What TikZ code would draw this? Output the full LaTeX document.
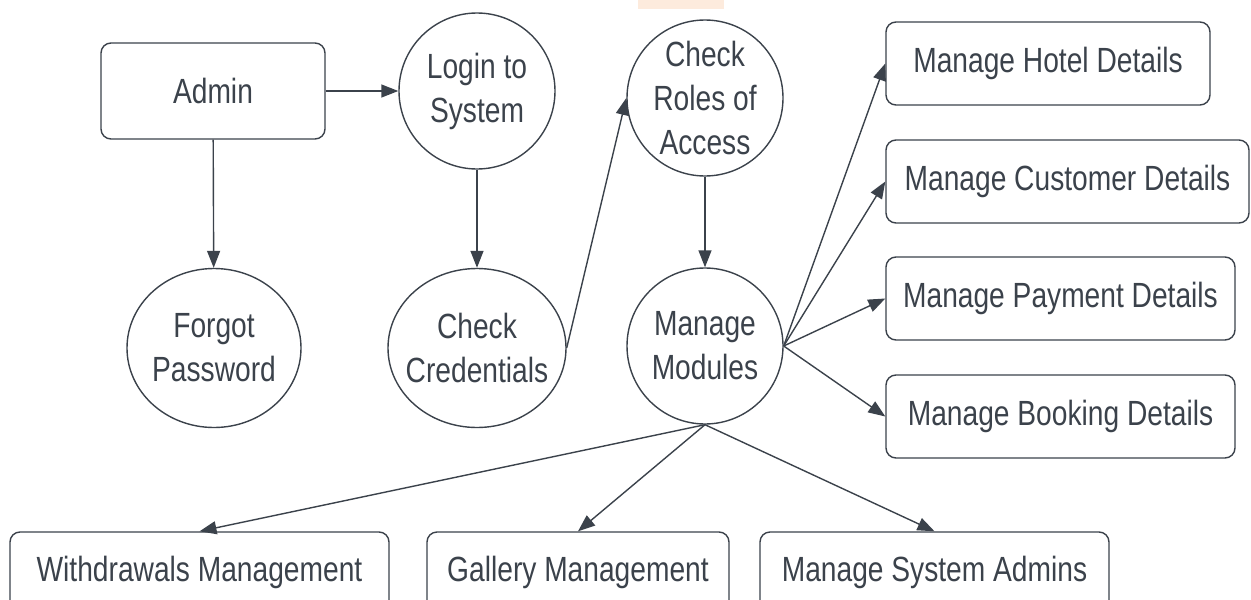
\documentclass[tikz,border=0pt]{standalone}
\usepackage{xcolor}
\usepackage{fontspec}
\setmainfont[FakeStretch=0.805]{Liberation Sans}
\usepackage{tikz}
\usetikzlibrary{positioning}
\usetikzlibrary{shapes.geometric}
\usetikzlibrary{arrows.meta}
\definecolor{inkgray}{HTML}{3B424B}
\definecolor{peach}{HTML}{FDEBDD}
\tikzset{
    process/.style={draw=inkgray,line width=1.4pt,shape=circle,%
    minimum size=156pt,align=center,inner sep=0pt},
    oval/.style={draw=inkgray,line width=1.4pt,shape=ellipse,%
    minimum height=159pt,align=center,inner ysep=0pt,inner xsep=-10pt},
    entity/.style={draw=inkgray,line width=1.4pt,rounded corners=10pt,%
    minimum height=83pt,inner sep=0pt},
    flow/.style={-{Triangle[length=17pt,width=13pt]},line width=1.4pt,draw=inkgray},
}

\begin{document}
\begin{tikzpicture}[x=1pt,y=-1pt,text=inkgray,font=\fontsize{35}{44}\selectfont]
                    \useasboundingbox (0,0) rectangle (1251,600);
                    \fill[peach] (638,0) rectangle (724,9);
                    % left column and first steps
                    \node (admin) [entity,minimum width=224pt,minimum height=96pt] at (213,91) {Admin};
                    \node (login) [process] at (477,91) {Login to\\System};
                    \node (roles) [process] at (705,98) {Check\\Roles of\\Access};
                    \node (forgot) [oval,minimum width=174pt] at (214,348) {Forgot\\Password};
                    \node (cred) [oval,minimum width=178pt] at (477,348) {Check\\Credentials};
                    \node (modules) [process] at (705,346) {Manage\\Modules};
                    % right column
                    \node (hotel) [entity,minimum width=324pt] at (1048,63.5) {Manage Hotel Details};
                    \node (customer) [entity,minimum width=363pt] at (1067.5,181.5) {Manage Customer Details};
                    \node (payment) [entity,minimum width=349pt] at (1060.5,298.5) {Manage Payment Details};
                    \node (booking) [entity,minimum width=349pt] at (1060.5,416.5) {Manage Booking Details};
                    % bottom row
                    \node (withdraw) [entity,minimum width=379pt,minimum height=80pt] at (199.5,572) {Withdrawals Management};
                    \node (gallery) [entity,minimum width=302pt,minimum height=80pt] at (578,572) {Gallery Management};
                    \node (sysadmins) [entity,minimum width=349pt,minimum height=80pt] at (934.5,572) {Manage System Admins};
                    % connectors
                    \draw[flow] (admin) -- (login);
                    \draw[flow] (admin) -- (forgot);
                    \draw[flow] (login) -- (cred);
                    \draw[flow] (cred.east) -- (roles.west);
                    \draw[flow] (roles) -- (modules);
                    \foreach \dest in {hotel,customer,payment,booking}
                        \draw[flow] (modules.east) -- (\dest.west);
                    \foreach \dest in {withdraw,gallery,sysadmins}
                        \draw[flow] (modules.south) -- (\dest.north);
                \end{tikzpicture}
\end{document}
